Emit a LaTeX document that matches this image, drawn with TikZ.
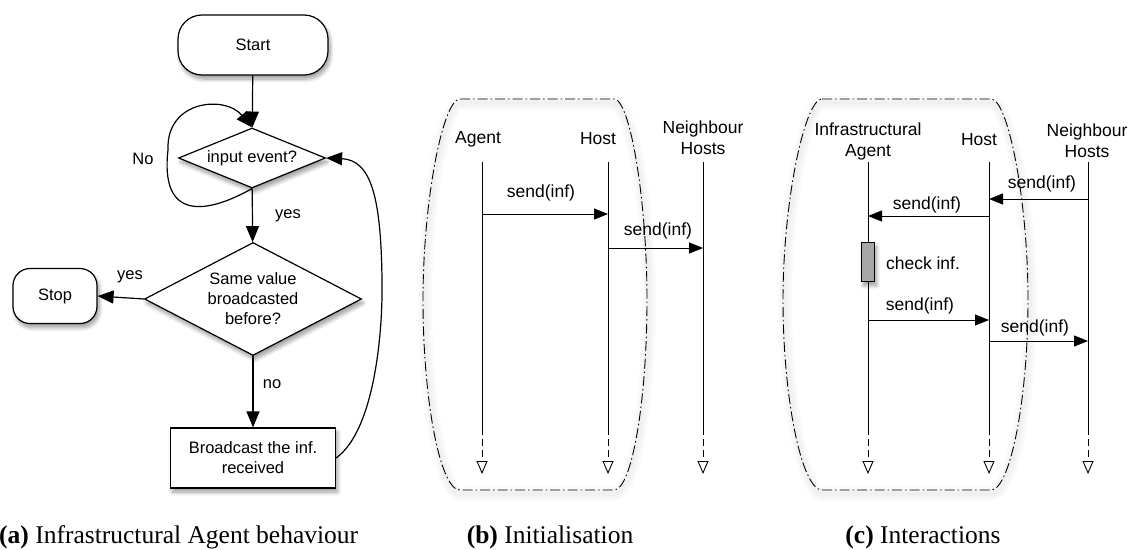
\documentclass[tikz,border=0pt]{standalone}
\usepackage{fontspec}
\setmainfont{Liberation Serif}
\setsansfont{Liberation Sans}
\usetikzlibrary{arrows.meta,shapes.geometric,shadows.blur}

\tikzset{
  flow/.style={line width=1.2pt, -{Triangle[length=16pt,width=13pt]}},
  msg/.style={line width=0.9pt, -{Triangle[length=14pt,width=11pt]}},
  life/.style={line width=0.9pt},
  lifeend/.style={line width=0.9pt, dash pattern=on 7pt off 4pt, -{Triangle[open,length=13pt,width=11pt]}},
  bound/.style={line width=0.9pt, dash pattern=on 10pt off 3pt on 1.5pt off 3pt},
  halo/.style={draw=black, opacity=0.02, line cap=round, line join=round},
  dropsh/.style={blur shadow={shadow xshift=2pt, shadow yshift=-4pt, shadow blur steps=8, shadow blur radius=4pt, shadow opacity=40}},
  term/.style={draw, line width=1.2pt, fill=white, dropsh},
  decision/.style={draw, diamond, line width=1.2pt, fill=white, inner sep=0pt, align=center, dropsh},
  flowtxt/.style={font=\sffamily\fontsize{16.5}{20}\selectfont, align=center},
  lbl/.style={font=\sffamily\fontsize{17.5}{21}\selectfont, align=center, inner sep=0pt},
  subcap/.style={font=\fontsize{25.5}{28}\selectfont, anchor=base, inner sep=0pt}
}

\begin{document}
\begin{tikzpicture}[x=1pt, y=-1pt]
    \useasboundingbox (0,0) rectangle (1132,549);

    \node [term, flowtxt, rounded corners=24pt, minimum width=150pt, minimum height=60pt] (start) at (253,45) {Start};
    \node [decision, flowtxt, aspect=2.45, minimum width=147pt, minimum height=60pt] (q1) at (252,158) {input event?};
    \node [decision, flowtxt, aspect=1.92, minimum width=217pt, minimum height=113pt] (q2) at (253,299) {Same value\\broadcasted\\before?};
    \node [term, flowtxt, rounded corners=17pt, minimum width=84pt, minimum height=55pt] (stop) at (55,296) {Stop};
    \node [term, flowtxt, minimum width=165pt, minimum height=60pt] (bc) at (253,458) {Broadcast the inf.\\received};

    \draw [flow] (start) -- (q1);
    \draw [flow] (q1) -- (q2);
    \draw [flow] (q2.west) -- (stop.east);
    \draw [flow] (q2) -- (bc);
    \draw [flow] (q1.south) .. controls (205,215) and (160,220) .. (168,150) .. controls (166,100) and (225,95) .. (q1.north);
    \draw [flow] (bc.east) .. controls (375,430) and (383,330) .. (382,280) .. controls (381,200) and (372,160) .. (q1.east);

    \node [flowtxt] (no1) at (143,159) {No};
    \node [flowtxt] (yes1) at (288,216) {yes};
    \node [flowtxt] (yes2) at (130,277) {yes};
    \node [flowtxt] (no2) at (272,384) {no};

    \foreach \w in {14,9,4} {
      \draw [halo, line width=\w pt] (460,103) -- (614,103) .. controls (630,103) and (649,200) .. (649,300) .. controls (649,400) and (634,494) .. (614,494) -- (460,494) .. controls (442,494) and (425,400) .. (425,300) .. controls (425,200) and (445,103) .. (460,103) -- cycle;
      \draw [halo, line width=\w pt] (822,103) -- (991,103) .. controls (1008,103) and (1030,200) .. (1030,300) .. controls (1030,400) and (1012,494) .. (991,494) -- (822,494) .. controls (804,494) and (785,400) .. (785,300) .. controls (785,200) and (807,103) .. (822,103) -- cycle;
    }
    \draw [bound] (460,99) -- (614,99) .. controls (630,99) and (647,200) .. (647,300) .. controls (647,400) and (632,490) .. (614,490) -- (460,490) .. controls (440,490) and (423,400) .. (423,300) .. controls (423,200) and (443,99) .. (460,99) -- cycle;
    \draw [bound] (822,99) -- (991,99) .. controls (1008,99) and (1028,200) .. (1028,300) .. controls (1028,400) and (1010,490) .. (991,490) -- (822,490) .. controls (802,490) and (783,400) .. (783,300) .. controls (783,200) and (805,99) .. (822,99) -- cycle;

    \node [lbl] (agentb) at (478,139) {Agent};
    \node [lbl] (hostb) at (598,139) {Host};
    \node [lbl] (neighb) at (703,138) {Neighbour\\Hosts};
    \node [lbl] (agentc) at (868,141) {Infrastructural\\Agent};
    \node [lbl] (hostc) at (979,140) {Host};
    \node [lbl] (neighc) at (1087,141) {Neighbour\\Hosts};

    \draw [life] (482,162) coordinate (bA) -- (482,428) coordinate (bAd);
    \draw [life] (608,162) coordinate (bH) -- (608,428) coordinate (bHd);
    \draw [life] (703,162) coordinate (bN) -- (703,428) coordinate (bNd);
    \draw [life] (868,162) coordinate (cA) -- (868,428) coordinate (cAd);
    \draw [life] (989,162) coordinate (cH) -- (989,428) coordinate (cHd);
    \draw [life] (1088,162) coordinate (cN) -- (1088,428) coordinate (cNd);
    \draw [lifeend] (bAd) -- (bAd |- 0,474);
    \draw [lifeend] (bHd) -- (bHd |- 0,474);
    \draw [lifeend] (bNd) -- (bNd |- 0,474);
    \draw [lifeend] (cAd) -- (cAd |- 0,474);
    \draw [lifeend] (cHd) -- (cHd |- 0,474);
    \draw [lifeend] (cNd) -- (cNd |- 0,474);

    \draw [msg] (bA |- 0,214) -- (bH |- 0,214);
    \draw [msg] (bH |- 0,248) -- (bN |- 0,248);
    \node [lbl] (sb1) at (541,193) {send(inf)};
    \node [lbl] (sb2) at (658,231) {send(inf)};

    \draw [msg] (cN |- 0,199) -- (cH |- 0,199);
    \draw [msg] (cH |- 0,216) -- (cA |- 0,216);
    \draw [msg] (cA |- 0,320) -- (cH |- 0,320);
    \draw [msg] (cH |- 0,341) -- (cN |- 0,341);
    \node [lbl] (sc1) at (1042,184) {send(inf)};
    \node [lbl] (sc2) at (927,205) {send(inf)};
    \node [lbl] (sc3) at (920,306) {send(inf)};
    \node [lbl] (sc4) at (1035,328) {send(inf)};

    \node [draw, line width=0.9pt, fill=gray!70, minimum width=13pt, minimum height=39pt, inner sep=0pt, dropsh] (chk) at (868,262) {};
    \node [lbl] (chktxt) at (923,263) {check inf.};

    \node [subcap, anchor=base west] (capa) at (-1,543) {\textbf{(a)} Infrastructural Agent behaviour};
    \node [subcap] (capb) at (550,543) {\textbf{(b)} Initialisation};
    \node [subcap] (capc) at (923,543) {\textbf{(c)} Interactions};
\end{tikzpicture}
\end{document}
